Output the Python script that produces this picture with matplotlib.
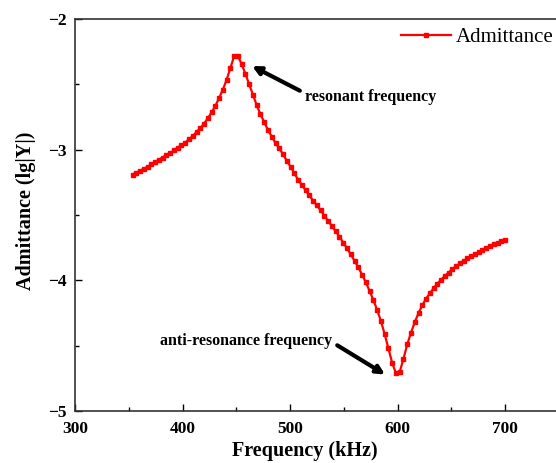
import numpy as np
import matplotlib
matplotlib.use("Agg")
import matplotlib.pyplot as plt
from matplotlib.ticker import MultipleLocator

# 字体设置（Times 风格）
plt.rcParams['font.family'] = ['Liberation Serif', 'DejaVu Serif']
plt.rcParams['axes.unicode_minus'] = True

# 扫频点 (kHz)
freq = [353.5, 357, 360.5, 364, 367.5, 371, 374.5, 378, 381.5, 385,
        388.5, 392, 395.5, 399, 402.5, 406, 409.5, 413, 416.5, 420,
        423.5, 427, 430.5, 434, 437.5, 441, 444.5, 448, 451.5, 455,
        458.5, 462, 465.5, 469, 472.5, 476, 479.5, 483, 486.5, 490,
        493.5, 497, 500.5, 504, 507.5, 511, 514.5, 518, 521.5, 525,
        528.5, 532, 535.5, 539, 542.5, 546, 549.5, 553, 556.5, 560,
        563.5, 567, 570.5, 574, 577.5, 581, 584.5, 588, 591.5, 595,
        598.5, 602, 605.5, 609, 612.5, 616, 619.5, 623, 626.5, 630,
        633.5, 637, 640.5, 644, 647.5, 651, 654.5, 658, 661.5, 665,
        668.5, 672, 675.5, 679, 682.5, 686, 689.5, 693, 696.5, 700]

# 导纳 lg|Y|
admittance = [-3.19, -3.175, -3.16, -3.145, -3.13, -3.11, -3.095, -3.075, -3.06, -3.04,
              -3.025, -3.005, -2.985, -2.965, -2.945, -2.92, -2.895, -2.865, -2.835, -2.80,
              -2.76, -2.715, -2.665, -2.605, -2.54, -2.465, -2.375, -2.285, -2.285, -2.345,
              -2.42, -2.50, -2.58, -2.66, -2.73, -2.79, -2.85, -2.90, -2.95, -2.99,
              -3.035, -3.085, -3.13, -3.18, -3.23, -3.27, -3.31, -3.35, -3.39, -3.425,
              -3.465, -3.505, -3.545, -3.585, -3.625, -3.665, -3.71, -3.755, -3.80, -3.85,
              -3.90, -3.955, -4.015, -4.08, -4.15, -4.225, -4.31, -4.41, -4.52, -4.63,
              -4.71, -4.70, -4.60, -4.49, -4.40, -4.32, -4.25, -4.19, -4.14, -4.10,
              -4.06, -4.025, -3.995, -3.965, -3.94, -3.915, -3.89, -3.87, -3.85, -3.83,
              -3.815, -3.80, -3.785, -3.77, -3.755, -3.74, -3.725, -3.71, -3.70, -3.69]

fig = plt.figure(figsize=(5.56, 4.63), dpi=100)
ax = fig.add_axes([0.135, 0.112, 0.870, 0.847])

ax.plot(freq, admittance, color='red', lw=1.6, marker='s', markersize=2.8,
        label='Admittance')

ax.set_xlim(300, 750)
ax.set_ylim(-5, -2)
ax.xaxis.set_major_locator(MultipleLocator(100))
ax.xaxis.set_minor_locator(MultipleLocator(50))
ax.yaxis.set_major_locator(MultipleLocator(1))
ax.yaxis.set_minor_locator(MultipleLocator(0.5))
ax.tick_params(which='both', direction='in', top=False, right=False)
ax.tick_params(which='major', length=5, width=1, labelsize=12.5)
ax.tick_params(axis='x', which='major', pad=7)
ax.tick_params(axis='y', which='major', pad=6)
ax.tick_params(which='minor', length=3, width=1)
for lbl in ax.get_xticklabels() + ax.get_yticklabels():
    lbl.set_fontweight('bold')
for sp in ax.spines.values():
    sp.set_linewidth(1.2)
    sp.set_color('#333333')

ax.set_xlabel('Frequency (kHz)', fontsize=14.5, fontweight='bold')
ax.xaxis.set_label_coords(0.475, -0.075)
ax.set_ylabel('Admittance (lg|Y|)', fontsize=14.5, fontweight='bold')
ax.yaxis.set_label_coords(-0.08, 0.51)

# 标注
ax.annotate('resonant frequency', xy=(464.7, -2.36), xytext=(514, -2.60),
            fontsize=11.5, fontweight='bold', va='center', ha='left',
            arrowprops=dict(arrowstyle='-|>', color='black', lw=3,
                            mutation_scale=12, shrinkA=2, shrinkB=0,
                            relpos=(0, 0.75)))
ax.annotate('anti-resonance frequency', xy=(588.4, -4.72), xytext=(379, -4.46),
            fontsize=11.5, fontweight='bold', va='center', ha='left',
            arrowprops=dict(arrowstyle='-|>', color='black', lw=3,
                            mutation_scale=12, shrinkA=2, shrinkB=0,
                            relpos=(1, 0.4)))

ax.legend(loc='upper left', bbox_to_anchor=(0.707, 0.959),
          bbox_transform=fig.transFigure, frameon=False, fontsize=15,
          handlelength=2.4, handletextpad=0.2, borderaxespad=0)

fig.savefig('out.png', dpi=100)
